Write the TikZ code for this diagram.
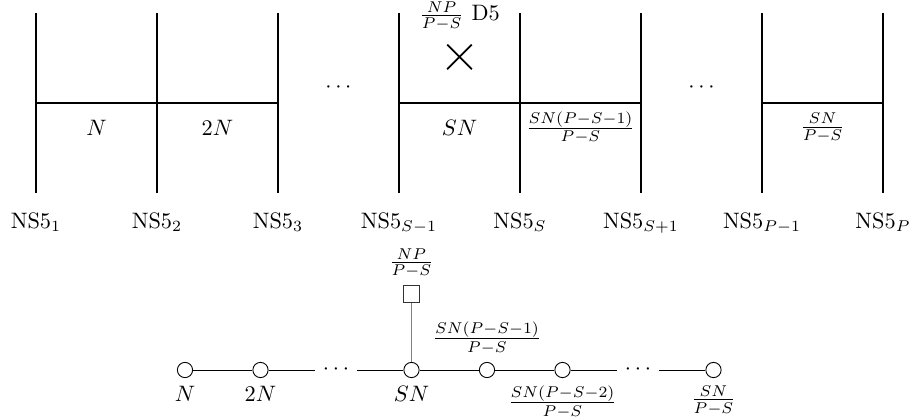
\documentclass[tikz,border=0pt]{standalone}
\usepackage{tikz}
\usetikzlibrary{positioning,shapes.misc,calc}
\tikzset{
  brane/.style={thick},
  d3label/.style={yshift=-0.39cm},
  d5cross/.style={cross out, draw, thick, minimum size=0.36cm, inner sep=0pt},
  gaugenode/.style={circle, draw, minimum size=0.24cm, inner sep=0pt},
  flavnode/.style={rectangle, draw=black!80, minimum size=0.26cm, inner sep=0pt},
  quiverline/.style={draw, line width=0.45pt},
  flavline/.style={draw=gray, line width=0.75pt},
}

\begin{document}
\begin{tikzpicture}
  \useasboundingbox (0,0) rectangle (14.362,6.614);
  % NS5 branes
  \coordinate (t1) at (0.567,6.409);  \coordinate (b1) at (0.567,3.575);
  \coordinate (t2) at (2.472,6.409);  \coordinate (b2) at (2.472,3.575);
  \coordinate (t3) at (4.378,6.409);  \coordinate (b3) at (4.378,3.575);
  \coordinate (t4) at (6.283,6.409);  \coordinate (b4) at (6.283,3.575);
  \coordinate (t5) at (8.189,6.409);  \coordinate (b5) at (8.189,3.575);
  \coordinate (t6) at (10.094,6.409); \coordinate (b6) at (10.094,3.575);
  \coordinate (t7) at (12.000,6.409); \coordinate (b7) at (12.000,3.575);
  \coordinate (t8) at (13.906,6.409); \coordinate (b8) at (13.906,3.575);
  \draw[brane] (t1) -- (b1);
  \draw[brane] (t2) -- (b2);
  \draw[brane] (t3) -- (b3);
  \draw[brane] (t4) -- (b4);
  \draw[brane] (t5) -- (b5);
  \draw[brane] (t6) -- (b6);
  \draw[brane] (t7) -- (b7);
  \draw[brane] (t8) -- (b8);
  \node[below=0.18cm of b1] (ns1) {NS5$_1$};
  \node[below=0.18cm of b2] (ns2) {NS5$_2$};
  \node[below=0.18cm of b3] (ns3) {NS5$_3$};
  \node[below=0.18cm of b4] (ns4) {NS5$_{S-1}$};
  \node[below=0.18cm of b5] (ns5) {NS5$_S$};
  \node[below=0.18cm of b6] (ns6) {NS5$_{S+1}$};
  \node[below=0.18cm of b7] (ns7) {NS5$_{P-1}$};
  \node[below=0.18cm of b8] (ns8) {NS5$_P$};
  % D3 segments
  \coordinate (h1) at (0.567,4.992);
  \coordinate (h2) at (2.472,4.992);
  \coordinate (h3) at (4.378,4.992);
  \coordinate (h4) at (6.283,4.992);
  \coordinate (h5) at (8.189,4.992);
  \coordinate (h6) at (10.094,4.992);
  \coordinate (h7) at (12.000,4.992);
  \coordinate (h8) at (13.906,4.992);
  \draw[brane] (h1) -- node[d3label] (n1) {$N$} (h2) -- node[d3label] (n2) {$2N$} (h3);
  \draw[brane] (h4) -- node[d3label] (n4) {$SN$} (h5)
    -- node[d3label] (n5) {$\frac{SN(P-S-1)}{P-S}$} (h6);
  \draw[brane] (h7) -- node[d3label] (n7) {$\frac{SN}{P-S}$} (h8);
  \node (dtop1) at (5.330,5.228) {$\cdots$};
  \node (dtop2) at (11.047,5.228) {$\cdots$};
  % D5 brane
  \node[d5cross] (d5) at (7.236,5.717) {};
  \node[above=0.1cm of d5] (d5lab) {$\frac{NP}{P-S}$ D5};

  % quiver
  \node[gaugenode, label=below:$N$] (g1) at (2.913,0.787) {};
  \node[gaugenode, label=below:$2N$] (g2) at (4.102,0.787) {};
  \node (qd1) at (5.291,0.787) {$\cdots$};
  \node[gaugenode, label=below:$SN$] (g3) at (6.480,0.787) {};
  \node[gaugenode, label={above:$\frac{SN(P-S-1)}{P-S}$}] (g4) at (7.669,0.787) {};
  \node[gaugenode, label={below:$\frac{SN(P-S-2)}{P-S}$}] (g5) at (8.858,0.787) {};
  \node (qd2) at (10.047,0.787) {$\cdots$};
  \node[gaugenode, label={below:$\frac{SN}{P-S}$}] (g6) at (11.236,0.787) {};
  \node[flavnode, above=0.93cm of g3, label={above:$\frac{NP}{P-S}$}] (f1) {};
  \draw[quiverline] (g1) -- (g2) -- (qd1) -- (g3) -- (g4) -- (g5) -- (qd2) -- (g6);
  \draw[flavline] (f1) -- (g3);
\end{tikzpicture}
\end{document}
